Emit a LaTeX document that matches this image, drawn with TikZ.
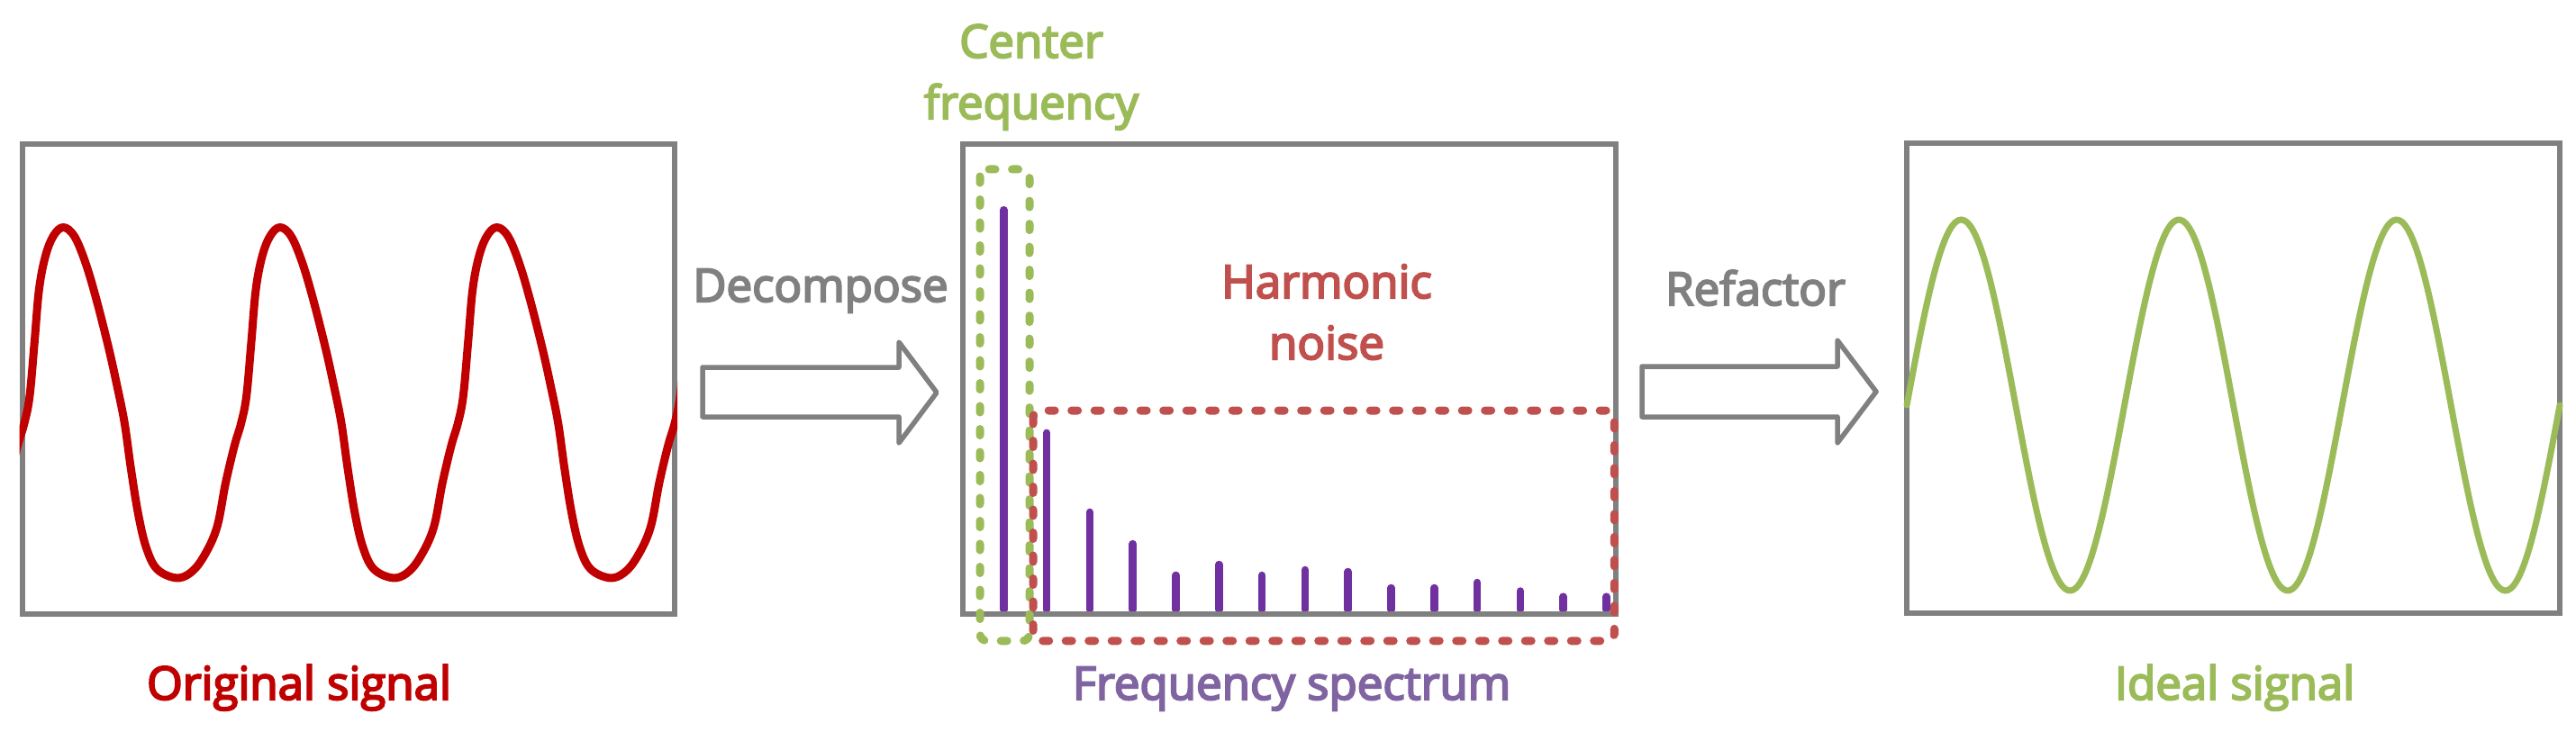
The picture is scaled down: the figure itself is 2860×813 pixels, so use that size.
\documentclass[tikz,border=0pt]{standalone}
\usepackage{fontspec}
\setmainfont{Open Sans}[FakeBold=4]
\usepackage{xcolor}
\definecolor{framegray}{RGB}{128,128,128}
\definecolor{origred}{RGB}{192,0,0}
\definecolor{idealgreen}{RGB}{155,187,89}
\definecolor{noisered}{RGB}{192,80,77}
\definecolor{barpurple}{RGB}{112,48,160}
\definecolor{labelpurple}{RGB}{128,100,162}
\usepackage{tikz}
\usetikzlibrary{positioning}

\tikzset{
  panel/.style={draw=framegray, line width=6pt, inner sep=0pt, minimum width=724.5pt, minimum height=522pt},
  blockarrow/.style={draw=framegray, line width=5.5pt, line join=round},
  caption/.style={font=\fontsize{51}{68}\selectfont, anchor=base, align=center, inner sep=0pt},
  dashbox/.style={line width=9pt, line cap=round, dash pattern=on 7pt off 18.5pt, rounded corners=8pt},
  specbar/.style={draw=barpurple, line width=8.5pt, line cap=round},
  origwave/.style={draw=origred, line width=9pt, line cap=round, line join=round},
  idealwave/.style={draw=idealgreen, line width=7pt, line cap=round},
}

\begin{document}
\begin{tikzpicture}[x=1pt,y=-1pt]
\fill[white] (0,0) rectangle (2860,813);

% spectrum bars
\foreach \h [count=\i from 0] in {233.2,480.8,568.9,604.1,638.9,627,639,633,635,653,653,647,656.5,662.7,662.7}
  \draw[specbar] (1114.3+\i*47.8,677) -- (1114.3+\i*47.8,\h);

% panels
\node[panel] (orig) at (386.8,420.6) {};
\node[panel] (spec) at (1431.6,420.7) {};
\node[panel] (ideal) at (2479.5,420.3) {};

% original signal: one period of points, repeated 4 times
\def\wavepts{}
\foreach \k in {0,...,3}
  \foreach \dx/\yy in {0/641.8, 16.2/636.4, 30.9/618.6, 45.7/586.2, 55.5/536.4, 65.3/495, 72.7/470, 78.6/440, 84/380, 89/322, 96/285, 105/262, 115.9/252.5, 128/262, 140/290, 152/330, 166/385, 176/430, 184/470, 191/520, 199/570, 208/608, 220/632}{
    \pgfmathsetmacro\xx{\k*240.7-45.7+\dx}
    \xdef\wavepts{\wavepts (\xx,\yy)}
  }
\begin{scope}
\clip (orig.south west) rectangle (orig.north east);
\edef\wavepath{\noexpand\draw[origwave] plot[smooth, tension=0.6] coordinates {\wavepts (917.1,641.8)};}
\wavepath
\end{scope}

% ideal signal
\draw[idealwave] plot[domain=0:725, samples=240, smooth] (2117+\x,{450-206*sin(\x*1.48963)});

% windows on the spectrum
\draw[dashbox, draw=idealgreen] (1088,188) rectangle (1143,711.8);
\draw[dashbox, draw=noisered] (1147,456) rectangle (1792.3,711.8);

% arrows
\draw[blockarrow] (780,408) -- (998,408) -- (998,380) -- (1040,436) -- (998,492) -- (998,463) -- (780,463) -- cycle;
\draw[blockarrow] (1823,407) -- (2040,407) -- (2040,378) -- (2083,435) -- (2040,492) -- (2040,463) -- (1823,463) -- cycle;

% labels
\node[caption, text=framegray] (decomp) at (911,335) {Decompose};
\node[caption, text=framegray] (refac) at (1949,339) {Refactor};
\node[caption, text=idealgreen] (center) at (1145,132) {Center\\frequency};
\node[caption, text=noisered] (noise) at (1473,399) {Harmonic\\noise};
\node[caption, text=origred] (origlabel) at (332,777) {Original signal};
\node[caption, text=labelpurple] (speclabel) at (1434,777) {Frequency spectrum};
\node[caption, text=idealgreen] (ideallabel) at (2481,777) {Ideal signal};
\end{tikzpicture}
\end{document}
